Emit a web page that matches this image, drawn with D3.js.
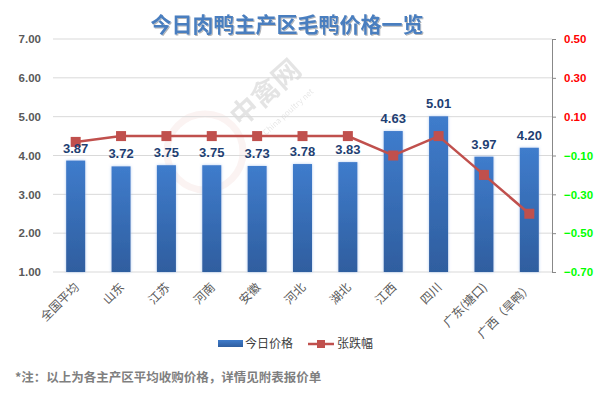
<!DOCTYPE html>
<html>
<head>
<meta charset="utf-8">
<script src="https://cdn.jsdelivr.net/npm/d3@7"></script>
<style>
  body { margin: 0; background: #fff; }
  svg { font-family: "Noto Sans CJK SC", "Microsoft YaHei", sans-serif; }
</style>
</head>
<body>
<div id="maindiv"></div>
<script>
// chart data
var categories = ["全国平均", "山东", "江苏", "河南", "安徽", "河北", "湖北", "江西", "四川", "广东(塘口)", "广西（旱鸭）"];
var prices = [3.87, 3.72, 3.75, 3.75, 3.73, 3.78, 3.83, 4.63, 5.01, 3.97, 4.20];
var changes = [-0.03, 0, 0, 0, 0, 0, 0, -0.10, 0, -0.20, -0.40];
var leftTicks = [1, 2, 3, 4, 5, 6, 7];
var rightTicks = [-0.7, -0.5, -0.3, -0.1, 0.1, 0.3, 0.5];

var width = 595, height = 399;
var margin = { top: 39, bottom: 127, left: 53, right: 43 };
var numFont = "'Liberation Sans', Arial, sans-serif";

var svg = d3.select("#maindiv").append("svg")
    .attr("width", width)
    .attr("height", height);

var defs = svg.append("defs");
var grad = defs.append("linearGradient").attr("id", "barGrad")
    .attr("x1", 0).attr("y1", 0).attr("x2", 0).attr("y2", 1);
grad.append("stop").attr("offset", "0%").attr("stop-color", "#3f7ccc");
grad.append("stop").attr("offset", "100%").attr("stop-color", "#2f5e9f");
var glow = defs.append("filter").attr("id", "glow")
    .attr("x", "-50%").attr("y", "-10%").attr("width", "200%").attr("height", "120%");
glow.append("feDropShadow").attr("dx", 0).attr("dy", 0).attr("stdDeviation", 1.5)
    .attr("flood-color", "#9fc0ee").attr("flood-opacity", 0.8);
var tshadow = defs.append("filter").attr("id", "tshadow");
tshadow.append("feDropShadow").attr("dx", 1).attr("dy", 1).attr("stdDeviation", 0.6)
    .attr("flood-color", "#000").attr("flood-opacity", 0.3);

var x = d3.scaleBand()
    .domain(categories)
    .range([margin.left, width - margin.right])
    .paddingInner(0.58)
    .paddingOuter(0.29);

var y = d3.scaleLinear()
    .domain([1, 7])
    .range([height - margin.bottom, margin.top]);

var y2 = d3.scaleLinear()
    .domain([-0.7, 0.5])
    .range([height - margin.bottom, margin.top]);

// watermark
var wm = svg.append("g");
wm.append("circle").attr("cx", 205).attr("cy", 152).attr("r", 38)
    .attr("fill", "none").attr("stroke", "#c0504d").attr("stroke-width", 7).attr("opacity", 0.07);
wm.append("text").attr("transform", "translate(272,100) rotate(-42)")
    .attr("text-anchor", "middle").attr("font-size", 28).attr("font-weight", "bold")
    .attr("fill", "#000").attr("opacity", 0.1).text("中禽网");
wm.append("text").attr("transform", "translate(290,114) rotate(-42)")
    .attr("text-anchor", "middle").attr("font-size", 8)
    .attr("fill", "#000").attr("opacity", 0.1).text("China poultry net");

// gridlines
svg.append("g")
    .selectAll("line")
    .data(leftTicks)
    .enter()
    .append("line")
    .attr("x1", margin.left)
    .attr("x2", width - margin.right)
    .attr("y1", d => y(d))
    .attr("y2", d => y(d))
    .attr("stroke", "#d9d9d9")
    .attr("stroke-width", 1);

// left axis
var yAxis = svg.append("g")
    .attr("transform", `translate(${margin.left},0)`)
    .call(d3.axisLeft(y).tickValues(leftTicks).tickFormat(d3.format(".2f")).tickSize(0).tickPadding(12));
yAxis.select(".domain").remove();
yAxis.selectAll("text")
    .attr("font-size", 11.5)
    .attr("font-weight", "bold")
    .attr("fill", "#595959")
    .attr("font-family", numFont);

// right axis
var yAxis2 = svg.append("g")
    .attr("transform", `translate(${width - margin.right},0)`)
    .call(d3.axisRight(y2).tickValues(rightTicks).tickFormat(d3.format(".2f")).tickSize(4).tickPadding(8));
yAxis2.select(".domain").attr("stroke", "#888");
yAxis2.selectAll(".tick line").attr("stroke", "#888");
yAxis2.selectAll("text")
    .attr("font-size", 11.5)
    .attr("font-weight", "bold")
    .attr("font-family", numFont)
    .attr("fill", d => d > 0 ? "#ff0000" : "#00ff00");

// bars
svg.append("g")
    .selectAll("rect")
    .data(prices)
    .enter()
    .append("rect")
    .attr("x", (d, i) => x(categories[i]))
    .attr("y", d => y(d))
    .attr("width", x.bandwidth())
    .attr("height", d => y(1) - y(d))
    .attr("fill", "url(#barGrad)")
    .attr("filter", "url(#glow)");

// x labels
svg.append("g")
    .selectAll("text")
    .data(categories)
    .enter()
    .append("text")
    .attr("transform", d => `translate(${x(d) + x.bandwidth() / 2 + 4},${y(1) + 16}) rotate(-45)`)
    .attr("text-anchor", "end")
    .attr("font-size", 12)
    .attr("fill", "#595959")
    .text(d => d);

// line
var cx = i => x(categories[i]) + x.bandwidth() / 2;
var line = d3.line()
    .x((d, i) => cx(i))
    .y(d => y2(d));

svg.append("path")
    .datum(changes)
    .attr("d", line)
    .attr("fill", "none")
    .attr("stroke", "#c0504d")
    .attr("stroke-width", 2.5);

svg.append("g")
    .selectAll("rect")
    .data(changes)
    .enter()
    .append("rect")
    .attr("x", (d, i) => cx(i) - 5)
    .attr("y", d => y2(d) - 5)
    .attr("width", 10)
    .attr("height", 10)
    .attr("fill", "#c0504d");

// value labels
svg.append("g")
    .selectAll("text")
    .data(prices)
    .enter()
    .append("text")
    .attr("x", (d, i) => cx(i))
    .attr("y", d => y(d) - 8)
    .attr("text-anchor", "middle")
    .attr("font-size", 13)
    .attr("font-weight", "bold")
    .attr("font-family", numFont)
    .attr("fill", "#1f3f73")
    .text(d => d.toFixed(2));

// title
svg.append("text")
    .attr("x", 287)
    .attr("y", 32)
    .attr("text-anchor", "middle")
    .attr("font-size", 21)
    .attr("font-weight", "bold")
    .attr("fill", "#4a7ebf")
    .attr("filter", "url(#tshadow)")
    .text("今日肉鸭主产区毛鸭价格一览");

// legend
var lg = svg.append("g").attr("transform", "translate(218,344)");
lg.append("rect").attr("x", 0).attr("y", -4).attr("width", 25).attr("height", 7).attr("fill", "url(#barGrad)");
lg.append("text").attr("x", 27).attr("y", 4).attr("font-size", 12).attr("fill", "#404040").text("今日价格");
lg.append("line").attr("x1", 90).attr("x2", 116).attr("y1", 0).attr("y2", 0)
    .attr("stroke", "#c0504d").attr("stroke-width", 2.5);
lg.append("rect").attr("x", 99).attr("y", -4).attr("width", 8).attr("height", 8).attr("fill", "#c0504d");
lg.append("text").attr("x", 119).attr("y", 4).attr("font-size", 12).attr("fill", "#404040").text("张跌幅");

// footnote
svg.append("text")
    .attr("x", 15)
    .attr("y", 382)
    .attr("font-size", 12.5)
    .attr("font-weight", "bold")
    .attr("fill", "#7f7f7f")
    .text("*注：以上为各主产区平均收购价格，详情见附表报价单");
</script>
</body>
</html>
